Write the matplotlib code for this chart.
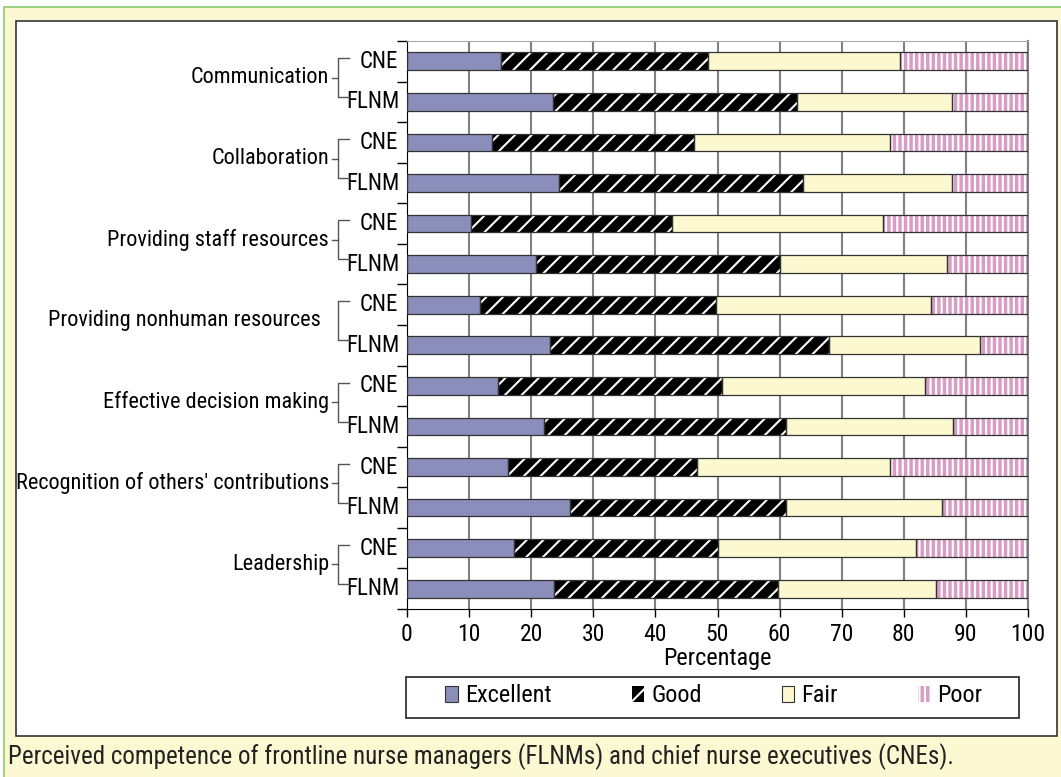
import numpy as np
import matplotlib.pyplot as plt
from matplotlib.patches import Patch, Rectangle
from matplotlib.lines import Line2D
from matplotlib.transforms import blended_transform_factory

plt.rcParams['font.family'] = ['Roboto Condensed', 'Liberation Sans Narrow', 'Archivo Narrow', 'DejaVu Sans']
plt.rcParams['hatch.linewidth'] = 1.5

skills = ['Communication', 'Collaboration', 'Providing staff resources',
          'Providing nonhuman resources', 'Effective decision making',
          "Recognition of others' contributions", 'Leadership']
groups = ['CNE', 'FLNM']
ratings = ['Excellent', 'Good', 'Fair', 'Poor']

# one value per bar, top to bottom (CNE, FLNM for each skill)
excellent = [15.1, 23.5, 13.7, 24.5, 10.3, 20.8, 11.7, 23.1, 14.7, 22.0, 16.2, 26.2, 17.3, 23.7]
good      = [33.3, 39.3, 32.5, 39.3, 32.3, 39.2, 38.1, 44.9, 36.0, 39.1, 30.5, 34.9, 32.8, 36.0]
fair      = [31.0, 24.9, 31.5, 23.9, 34.0, 26.9, 34.6, 24.2, 32.7, 26.9, 31.0, 25.0, 31.8, 25.5]
poor      = [20.6, 12.3, 22.3, 12.3, 23.4, 13.1, 15.6, 7.8, 16.6, 12.0, 22.3, 13.9, 18.1, 14.8]

W, H = 1061, 777
fig = plt.figure(figsize=(W / 100, H / 100), dpi=100, facecolor='white')

# page background, green border, white panel
fig.patches.append(Rectangle((4 / W, -0.05), 1.1, 1 - 7 / H + 0.05, transform=fig.transFigure,
                             facecolor='#fbf8d2', edgecolor='#86c96f', lw=1.2, zorder=-3))
fig.patches.append(Rectangle((16 / W, 1 - 736 / H), 1041 / W, 715 / H, transform=fig.transFigure,
                             facecolor='white', edgecolor='#333333', lw=1.2, zorder=-2))
# legend frame
fig.patches.append(Rectangle((406 / W, 1 - 718 / H), 613 / W, 41 / H, transform=fig.transFigure,
                             facecolor='white', edgecolor='#222222', lw=1.2, zorder=-1))

ax = fig.add_axes([407 / W, 1 - 609 / H, 621 / W, 568 / H])
ax.set_facecolor('none')

y = np.arange(len(excellent))
h = 0.44
left = np.zeros(len(y))
styles = [
    dict(facecolor='#8b8dbb', edgecolor='#8b8dbb', hatch=None),
    dict(facecolor='black', edgecolor='white', hatch='//'),
    dict(facecolor='#fcf8cf', edgecolor='#fcf8cf', hatch=None),
    dict(facecolor='#d99cc4', edgecolor='white', hatch='|||'),
]
for vals, st in zip([excellent, good, fair, poor], styles):
    ax.barh(y, vals, left=left, height=h, color=st['facecolor'], edgecolor=st['edgecolor'],
            hatch=st['hatch'], linewidth=0, zorder=2)
    ax.barh(y, vals, left=left, height=h, fill=False, edgecolor='#333333', linewidth=0.9, zorder=3)
    left = left + np.array(vals)

ax.set_xlim(0, 100)
ax.set_ylim(len(y) - 0.5, -0.5)
ax.set_xticks(np.arange(0, 101, 10))
ax.set_yticks([])
ax.set_yticks(np.arange(-0.5, len(y)), minor=True)
ax.tick_params(axis='y', which='minor', length=7, width=1, direction='out', labelleft=False)
ax.tick_params(axis='x', length=6, width=1, direction='out', labelsize=17, pad=4)
ax.xaxis.grid(True, color='#808080', lw=1.5)
ax.set_axisbelow(True)
ax.spines['left'].set_color('black')
ax.spines['bottom'].set_color('black')
ax.spines['top'].set_color('#aaaaaa')
ax.spines['right'].set_color('#808080')
ax.spines['right'].set_linewidth(1.5)
ax.set_xlabel('Percentage', fontsize=17.5, labelpad=1)

# category labels with brackets
tr = blended_transform_factory(fig.transFigure, ax.transData)
xv, xd, xh = 338 / W, 332 / W, 349 / W
for i, skill in enumerate(skills):
    yc, yf = 2 * i, 2 * i + 1
    ax.text(398 / W, yc, groups[0], transform=tr, ha='right', va='center', fontsize=16.5)
    ax.text(399 / W, yf, groups[1], transform=tr, ha='right', va='center', fontsize=16.5)
    t, b = yc - 0.08, yf - 0.12
    kw = dict(transform=tr, color='#555555', lw=1, clip_on=False)
    fig.add_artist(Line2D([xh, xv, xv, xh], [t, t, b, b], **kw))
    m = (t + b) / 2
    if skill != 'Providing nonhuman resources':
        fig.add_artist(Line2D([xd, xv], [m, m], **kw))
        ax.text(329 / W, m, skill, transform=tr, ha='right', va='center', fontsize=16)
    else:
        ax.text(321 / W, m, skill, transform=tr, ha='right', va='center', fontsize=16)

# legend
handles = [Patch(facecolor=st['facecolor'], edgecolor=st['edgecolor'] if st['hatch'] else '#333333',
                 hatch=st['hatch'], lw=0 if st['hatch'] else 0.8) for st in styles]
leg = fig.legend(handles, ratings, loc='center', bbox_to_anchor=(714 / W, 1 - 696 / H),
                 ncol=4, frameon=False, fontsize=17.5, handlelength=0.5, handleheight=0.6,
                 handletextpad=0.3, columnspacing=3.3)

fig.text(8 / W, 1 - 757 / H,
         'Perceived competence of frontline nurse managers (FLNMs) and chief nurse executives (CNEs).',
         ha='left', va='center', fontsize=18, color='#222222')

fig.savefig('out.png', dpi=100, facecolor=fig.get_facecolor())
